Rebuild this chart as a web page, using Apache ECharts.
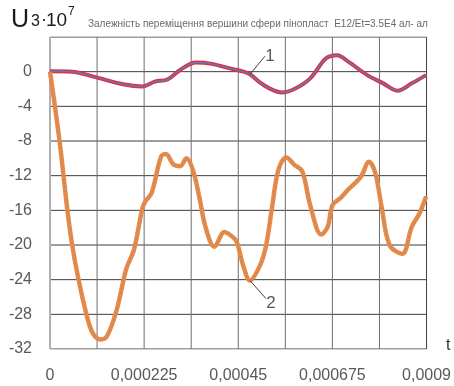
<!DOCTYPE html>
<html>
<head>
<meta charset="utf-8">
<script src="https://cdn.jsdelivr.net/npm/echarts@6/dist/echarts.min.js"></script>
<style>
  html, body { margin: 0; padding: 0; background: #fff; }
  #wrap { position: relative; width: 454px; height: 386px; overflow: hidden; }
  #chart { position: absolute; left: 0; top: 0; width: 454px; height: 386px; }
  .txt { position: absolute; line-height: 1; white-space: nowrap;
    font-family: 'Liberation Sans', Arial, sans-serif; color: #1a1a1a; }
  #marks { position: absolute; left: 0; top: 0; width: 454px; height: 386px; pointer-events: none; }
</style>
</head>
<body>
<div id="wrap">
  <div id="chart"></div>
  <div class="txt" style="left:11px;top:6px;font-size:25px">U</div>
  <div class="txt" style="left:31px;top:13px;font-size:16px">3</div>
  <div class="txt" style="left:41px;top:10px;font-size:18px">·</div>
  <div class="txt" style="left:46px;top:10px;font-size:19px">10</div>
  <div class="txt" style="left:68px;top:5px;font-size:12px">7</div>
  <div class="txt" style="left:88px;top:19px;font-size:10px;color:#6a6a6a">Залежність переміщення вершини сфери пінопласт&nbsp; E12/Et=3.5E4 ал- ал</div>
  <div class="txt" style="left:446px;top:337px;font-size:16px;color:#333">t</div>
  <svg id="marks" xmlns="http://www.w3.org/2000/svg"></svg>
</div>
<script>
// Vertex displacement of the sphere, U3 * 10^7, versus time t (s)
const t1 = [0, 53.0e-6, 106.3e-6, 174.5e-6, 220.1e-6, 250.3e-6, 280.6e-6, 311.1e-6, 348.9e-6,
  386.9e-6, 432.4e-6, 462.6e-6, 477.9e-6, 500.6e-6, 523.4e-6, 553.7e-6, 584.1e-6, 621.9e-6,
  659.9e-6, 686.5e-6, 713.0e-6, 758.4e-6, 796.5e-6, 830.6e-6, 864.7e-6, 898.9e-6];
const u1 = [0.05, 0, -0.6, -1.45, -1.7, -1.15, -0.9, 0.2, 1.05,
  0.9, 0.35, 0, -0.3, -1.2, -1.9, -2.4, -2.0, -0.77,
  1.55, 1.9, 1.15, -0.4, -1.35, -2.2, -1.35, -0.4];

const t2 = [0, 22.8e-6, 41.6e-6, 53.0e-6, 68.3e-6, 87.2e-6, 102.4e-6, 121.3e-6, 136.5e-6,
  159.3e-6, 182.0e-6, 200.9e-6, 220.1e-6, 227.6e-6, 242.8e-6, 265.6e-6, 276.9e-6, 295.8e-6,
  311.1e-6, 326.1e-6, 341.3e-6, 356.6e-6, 371.6e-6, 393.0e-6, 417.1e-6, 439.9e-6, 447.6e-6,
  462.6e-6, 477.9e-6, 500.6e-6, 515.9e-6, 530.9e-6, 546.1e-6, 565.0e-6, 584.1e-6, 603.0e-6,
  621.9e-6, 648.5e-6, 663.8e-6, 675.2e-6, 694.1e-6, 713.0e-6, 743.4e-6, 762.3e-6, 777.6e-6,
  792.6e-6, 811.7e-6, 842.0e-6, 864.7e-6, 883.6e-6, 898.9e-6];
const u2 = [0, -8, -16, -20, -24, -28, -30.2, -30.9, -30.5,
  -27.5, -22.8, -20.5, -15.9, -15, -14, -9.8, -9.5, -10.75,
  -10.9, -10, -11.3, -14.4, -17.9, -20.2, -18.5, -19.2, -19.8,
  -22.5, -24.1, -22.5, -20.2, -15.6, -11.3, -9.9, -10.75, -11.5,
  -15.4, -18.8, -17.9, -15.4, -14.6, -13.6, -12.1, -10.4, -11.7,
  -15.6, -20, -21, -17.9, -16.3, -14.4];

// Axis settings
const tMax = 0.0009, tStep = 0.0001125;
const uMin = -32, uMax = 4, uStep = 4;

// Curve numbers: the curve point each leader starts from, and the leader's offset in px
const curveLabels = [
  { text: '1', at: [477.9e-6, -0.3], dx: 15, dy: -18 },
  { text: '2', at: [477.9e-6, -24.1], dx: 16, dy: 18 }
];

const pairs = (xs, ys) => xs.map((x, i) => [x, ys[i]]);
const gray = '#595959';
const font = 'Liberation Sans, Arial, sans-serif';

// Grid and frame lines, one per axis tick, drawn as plain two-point lines under the curves
const gridSeries = [];
const gridLine = (data, color, width) => ({
  type: 'line', data, symbol: 'none', silent: true, z: 1,
  lineStyle: { color, width, type: 'solid' }, emphasis: { disabled: true }
});
for (let v = uMin; v <= uMax; v += uStep) {
  gridSeries.push(gridLine([[0, v], [tMax, v]], '#3c3c3c', 1));
}
const nT = Math.round(tMax / tStep);
for (let k = 0; k <= nT; k++) {
  const t = k * tStep;
  const color = k === 0 ? '#b0b0b0' : (k === nT ? '#404040' : '#6e6e6e');
  gridSeries.push(gridLine([[t, uMin], [t, uMax]], color, k === 0 ? 2 : 1));
}

const chart = echarts.init(document.getElementById('chart'));

chart.setOption({
  animation: false,
  grid: { left: 50, right: 8, top: 37, bottom: 37 },
  xAxis: {
    type: 'value', min: 0, max: tMax, interval: tStep,
    axisLine: { show: false }, axisTick: { show: false }, splitLine: { show: false },
    axisLabel: {
      color: gray, fontSize: 16, fontFamily: font, margin: 19,
      formatter: v => {
        const k = Math.round(v / tStep);
        if (k % 2 !== 0) return '';
        return String(Number(v.toPrecision(6))).replace('.', ',');
      }
    }
  },
  yAxis: {
    type: 'value', min: uMin, max: uMax, interval: uStep,
    axisLine: { show: false }, axisTick: { show: false }, splitLine: { show: false },
    axisLabel: {
      color: gray, fontSize: 16, fontFamily: font, margin: 18,
      formatter: v => (v >= uMax ? '' : String(v))
    }
  },
  series: gridSeries.concat([
    { type: 'line', data: pairs(t1, u1), smooth: 0.35, symbol: 'none', z: 3,
      lineStyle: { color: '#ec2a38', width: 4 } },
    { type: 'line', data: pairs(t1, u1), smooth: 0.35, symbol: 'none', z: 4,
      lineStyle: { color: '#5b7bc0', width: 1.5 } },
    { type: 'line', data: pairs(t2, u2), smooth: 0.35, symbol: 'none', z: 3,
      lineStyle: { color: '#f0893e', width: 4.5 } },
    { type: 'line', data: pairs(t2, u2), smooth: 0.35, symbol: 'none', z: 4,
      lineStyle: { color: '#8595ab', width: 1.5, type: [1.5, 2.5] } }
  ])
});

// Leader lines and curve numbers, placed through the chart's own axes
const svg = document.getElementById('marks');
const NS = 'http://www.w3.org/2000/svg';
curveLabels.forEach(c => {
  const p = chart.convertToPixel({ xAxisIndex: 0, yAxisIndex: 0 }, c.at);
  const ln = document.createElementNS(NS, 'line');
  ln.setAttribute('x1', p[0]); ln.setAttribute('y1', p[1]);
  ln.setAttribute('x2', p[0] + c.dx); ln.setAttribute('y2', p[1] + c.dy);
  ln.setAttribute('stroke', '#404040'); ln.setAttribute('stroke-width', '1');
  svg.appendChild(ln);
  const tx = document.createElementNS(NS, 'text');
  tx.setAttribute('x', p[0] + c.dx + 5);
  tx.setAttribute('y', p[1] + c.dy + (c.dy < 0 ? -1 : 4));
  tx.setAttribute('text-anchor', 'middle');
  tx.setAttribute('dominant-baseline', 'central');
  tx.setAttribute('font-family', font);
  tx.setAttribute('font-size', '17');
  tx.setAttribute('fill', gray);
  tx.textContent = c.text;
  svg.appendChild(tx);
});
</script>
</body>
</html>
